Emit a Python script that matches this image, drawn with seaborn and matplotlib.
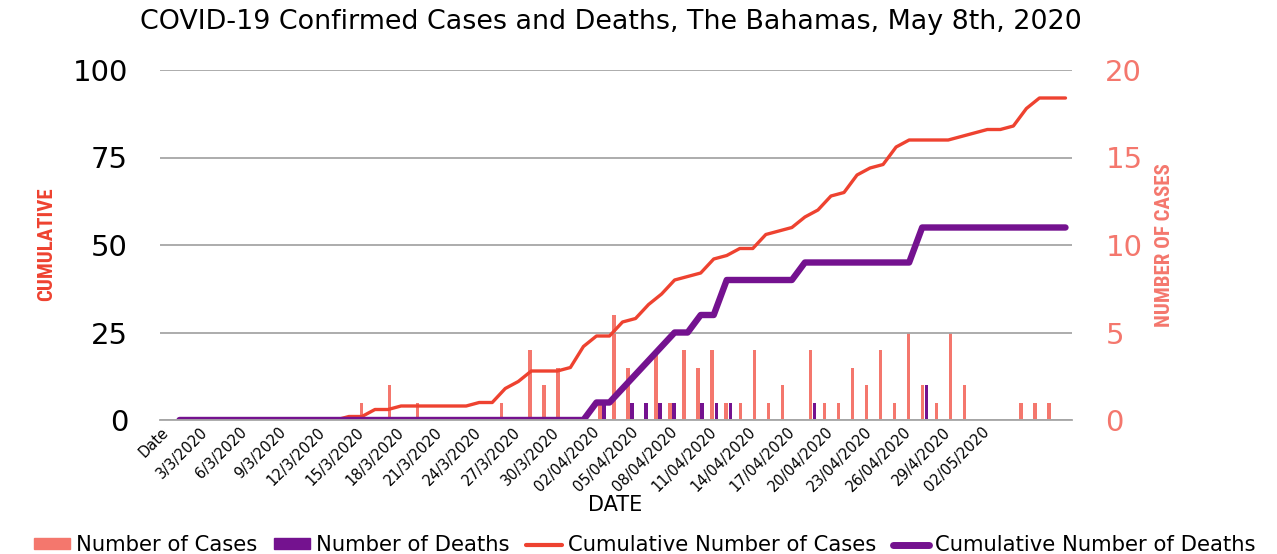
import numpy as np
import pandas as pd
import seaborn as sns
import matplotlib.pyplot as plt
import matplotlib.transforms as mtransforms
from matplotlib import font_manager
from matplotlib.patches import Patch
from matplotlib.lines import Line2D

#categorias do eixo x (linhas acumuladas)
marco = [f"{d}/3/2020" for d in range(1, 32)]
abril = [f"{d:02d}/04/2020" for d in range(1, 31)]
abril[28] = "29/4/2020"
maio = [f"{d:02d}/05/2020" for d in range(1, 9)]
datas = ["Date"] + marco + abril + maio

#acumulados (eixo esquerdo)
casos_acum = [np.nan, 0, 0, 0, 0, 0, 0, 0, 0, 0, 0, 0, 0, 0, 1, 1, 3, 3, 4, 4,
              4, 4, 4, 4, 5, 5, 9, 11, 14, 14, 14, 15, 21, 24, 24, 28, 29, 33, 36, 40,
              41, 42, 46, 47, 49, 49, 53, 54, 55, 58, 60, 64, 65, 70, 72, 73, 78, 80, 80, 80,
              80, 81, 82, 83, 83, 84, 89, 92, 92, 92]
mortes_acum = [np.nan, 0, 0, 0, 0, 0, 0, 0, 0, 0, 0, 0, 0, 0, 0, 0, 0, 0, 0, 0,
               0, 0, 0, 0, 0, 0, 0, 0, 0, 0, 0, 0, 0, 5, 5, 9, 13, 17, 21, 25,
               25, 30, 30, 40, 40, 40, 40, 40, 40, 45, 45, 45, 45, 45, 45, 45, 45, 45, 55, 55,
               55, 55, 55, 55, 55, 55, 55, 55, 55, 55]

#casos e mortes por dia (eixo direito, eixo x secundario com 65 posicoes)
casos_dia = [0, 0, 0, 0, 0, 0, 0, 0, 0, 0, 0, 0, 0, 0, 1, 0, 2, 0, 1, 0,
             0, 0, 0, 0, 1, 0, 4, 2, 3, 0, 0, 1, 6, 3, 0, 4, 1, 4, 3, 4,
             1, 1, 4, 1, 2, 0, 4, 1, 1, 3, 2, 4, 1, 5, 2, 1, 5, 2, 0, 0,
             0, 1, 1, 1, 0]
mortes_dia = [0, 0, 0, 0, 0, 0, 0, 0, 0, 0, 0, 0, 0, 0, 0, 0, 0, 0, 0, 0,
              0, 0, 0, 0, 0, 0, 0, 0, 0, 0, 0, 1, 0, 1, 1, 1, 1, 0, 1, 1,
              1, 0, 0, 0, 0, 0, 1, 0, 0, 0, 0, 0, 0, 0, 2, 0, 0, 0, 0, 0,
              0, 0, 0, 0, 0]

salmao = '#F4776D'
vermelho = '#EE4230'
roxo = '#74128F'
cinza = '#A6A6A6'

sns.set_style('white')
plt.rcParams['font.family'] = ['DejaVu Sans']
plt.rcParams['text.color'] = 'black'
plt.rcParams['xtick.color'] = 'black'
plt.rcParams['ytick.color'] = 'black'

#fonte estreita para os titulos dos eixos, se existir
nomes_fontes = {f.name for f in font_manager.fontManager.ttflist}
estreita = None
for nome in ['Liberation Sans Narrow', 'Roboto Condensed', 'DejaVu Sans Condensed', 'Open Sans Condensed']:
    if nome in nomes_fontes:
        estreita = nome
        break
if estreita is None:
    fonte_eixo = dict(family='DejaVu Sans', fontsize=11.2)
else:
    fonte_eixo = dict(family=estreita, fontsize=15)

fig = plt.figure(figsize=(12.77, 5.54), dpi=100)
ax = fig.add_axes([160 / 1277, 1 - 420 / 554, 912 / 1277, 350 / 554])
ax2 = ax.twinx()
ax3 = ax2.twiny()

#barras
pos_barras = np.arange(len(casos_dia))
barras = pd.DataFrame({'slot': np.concatenate([pos_barras, pos_barras]),
                       'valor': casos_dia + mortes_dia,
                       'serie': ['Number of Cases'] * len(casos_dia) + ['Number of Deaths'] * len(mortes_dia)})
sns.barplot(data=barras, x='slot', y='valor', hue='serie',
            hue_order=['Number of Cases', 'Number of Deaths'],
            palette=[salmao, roxo], saturation=1, width=0.58, gap=0.15,
            linewidth=0, errorbar=None, legend=False, ax=ax3)
ax3.set_xlim(-0.5, len(casos_dia) - 0.5)
ax3.set_xlabel('')
ax3.set_ylabel('')
ax3.tick_params(top=False, labeltop=False, bottom=False, labelbottom=False)

#linhas
pos = np.arange(len(datas))
linhas = pd.DataFrame({'pos': pos, 'casos': casos_acum, 'mortes': mortes_acum})
sns.lineplot(data=linhas, x='pos', y='casos', color=vermelho, linewidth=2.4, ax=ax)
sns.lineplot(data=linhas, x='pos', y='mortes', color=roxo, linewidth=4.6, ax=ax)

ax.set_zorder(3)
ax.patch.set_visible(False)

ax.set_xlim(-0.5, len(datas) - 0.5)
ax.set_ylim(0, 100)
ax.set_yticks([0, 25, 50, 75, 100])
ax.yaxis.grid(True, color=cinza, linewidth=1.3)
ax.set_xticks(pos[:64:3])
ax.set_xticklabels(datas[:64:3], rotation=45, ha='right', va='center',
                   rotation_mode='anchor', fontsize=10.5)
desloc = mtransforms.ScaledTranslation(-8 / 100, 0, fig.dpi_scale_trans)
for rot in ax.get_xticklabels():
    rot.set_transform(rot.get_transform() + desloc)
ax.tick_params(axis='x', length=0, pad=7)
ax.tick_params(axis='y', length=0, pad=23, labelsize=21)
ax.set_xlabel('')
ax.set_ylabel('')

ax2.set_ylim(0, 20)
ax2.set_yticks([0, 5, 10, 15, 20])
ax2.tick_params(axis='y', length=0, pad=24, labelsize=21, labelcolor=salmao)

for a in (ax, ax2, ax3):
    for s in a.spines.values():
        s.set_visible(False)
ax.spines['bottom'].set_visible(True)
ax.spines['bottom'].set_color(cinza)
ax.spines['bottom'].set_linewidth(1.3)

#textos
fig.text(611 / 1277, 1 - 22 / 554, 'COVID-19 Confirmed Cases and Deaths, The Bahamas, May 8th, 2020',
         ha='center', va='center', fontsize=19.4)
fig.text(47 / 1277, 1 - 244 / 554, 'CUMULATIVE', rotation=90, ha='center', va='center',
         fontweight='bold', color=vermelho, **fonte_eixo)
fig.text(1165 / 1277, 1 - 245 / 554, 'NUMBER OF CASES', rotation=90, ha='center', va='center',
         fontweight='bold', color=salmao, **fonte_eixo)
fig.text(615 / 1277, 1 - 505 / 554, 'DATE', ha='center', va='center', fontsize=15)

#legenda
itens = [Patch(color=salmao), Patch(color=roxo),
         Line2D([], [], color=vermelho, linewidth=3), Line2D([], [], color=roxo, linewidth=5)]
nomes = ['Number of Cases', 'Number of Deaths', 'Cumulative Number of Cases', 'Cumulative Number of Deaths']
fig.legend(itens, nomes, loc='center', bbox_to_anchor=(645 / 1277, 1 - 545 / 554), ncol=4,
           frameon=False, fontsize=15.2, handlelength=1.7, handleheight=0.4,
           columnspacing=0.8, handletextpad=0.28, borderpad=0.1)

fig.savefig('out.png', dpi=100)
